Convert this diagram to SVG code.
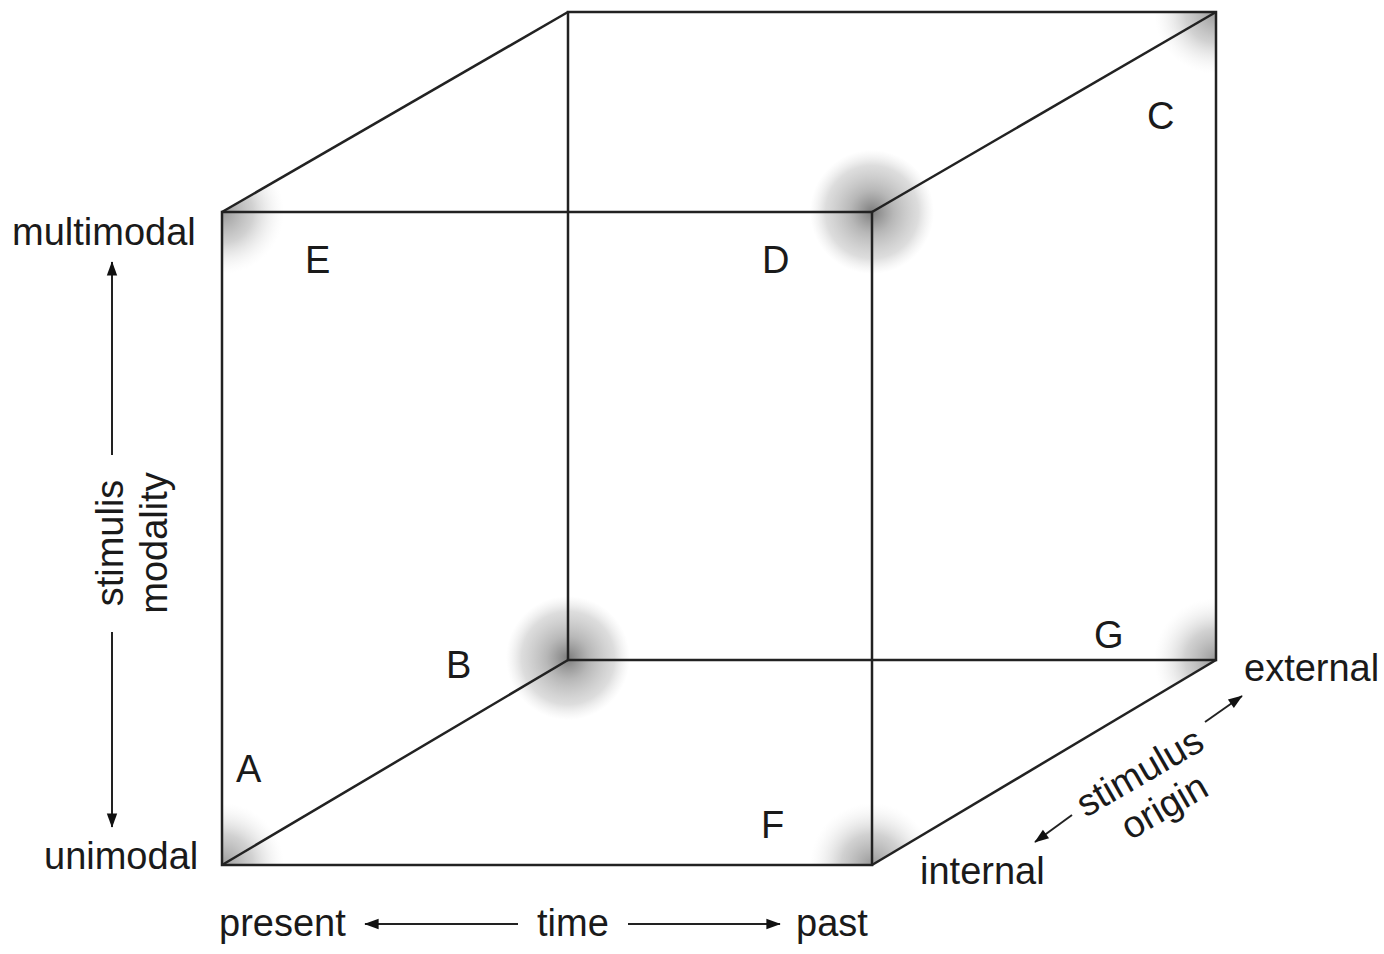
<svg xmlns="http://www.w3.org/2000/svg" width="1384" height="954" viewBox="0 0 1384 954">
<style>
text{font-family:"Liberation Sans",Arial,sans-serif;font-size:38px;fill:#1a1a1a}
.edge{stroke:#222;stroke-width:2.5;fill:none}
.ax{stroke:#222;stroke-width:2;fill:none}
</style>
<defs>
<radialGradient id="glow">
<stop offset="0" stop-color="#666" stop-opacity="0.85"/>
<stop offset="0.35" stop-color="#888" stop-opacity="0.6"/>
<stop offset="0.75" stop-color="#aaa" stop-opacity="0.4"/>
<stop offset="1" stop-color="#ccc" stop-opacity="0"/>
</radialGradient>
<radialGradient id="glowSm">
<stop offset="0" stop-color="#777" stop-opacity="0.75"/>
<stop offset="0.5" stop-color="#999" stop-opacity="0.45"/>
<stop offset="1" stop-color="#ddd" stop-opacity="0"/>
</radialGradient>
<clipPath id="cubeClip">
<polygon points="222,212 568,12 1216,12 1216,660 872,865 222,865"/>
</clipPath>
<marker id="ah" viewBox="0 0 10 10" refX="9" refY="5" markerWidth="8" markerHeight="8" markerUnits="userSpaceOnUse" orient="auto" overflow="visible">
<path d="M-8,-1.5 L10,5 L-8,11.5 Z" fill="#111"/>
</marker>
</defs>
<g id="glows">
<g clip-path="url(#cubeClip)">
<circle cx="222" cy="212" r="62" fill="url(#glowSm)"/>
<circle cx="222" cy="865" r="62" fill="url(#glowSm)"/>
<circle cx="872" cy="865" r="62" fill="url(#glowSm)"/>
<circle cx="1216" cy="12" r="62" fill="url(#glowSm)"/>
<circle cx="1216" cy="660" r="62" fill="url(#glowSm)"/>
</g>
<circle cx="872" cy="212" r="62" fill="url(#glow)"/>
<circle cx="568" cy="658" r="62" fill="url(#glow)"/>
</g>
<g id="connectors">
<rect class="edge" x="568" y="12" width="648" height="648"/>
<rect class="edge" x="222" y="212" width="650" height="653"/>
<line class="edge" x1="222" y1="212" x2="568" y2="12"/>
<line class="edge" x1="872" y1="212" x2="1216" y2="12"/>
<line class="edge" x1="222" y1="865" x2="568" y2="660"/>
<line class="edge" x1="872" y1="865" x2="1216" y2="660"/>
<line class="ax" x1="112" y1="455" x2="112" y2="262" marker-end="url(#ah)"/>
<line class="ax" x1="112" y1="632" x2="112" y2="827" marker-end="url(#ah)"/>
<line class="ax" x1="518" y1="924" x2="365" y2="924" marker-end="url(#ah)"/>
<line class="ax" x1="628" y1="924" x2="780" y2="924" marker-end="url(#ah)"/>
<line class="ax" x1="1205" y1="722" x2="1242" y2="696" marker-end="url(#ah)"/>
<line class="ax" x1="1072" y1="815" x2="1035" y2="842" marker-end="url(#ah)"/>
</g>
<g id="corner-labels">
<text id="E" x="305" y="273">E</text>
<text id="D" x="762" y="273">D</text>
<text id="C" x="1147" y="129">C</text>
<text id="B" x="446" y="678">B</text>
<text id="A" x="236" y="782">A</text>
<text id="F" x="761" y="838">F</text>
<text id="G" x="1094" y="648">G</text>
</g>
<g id="axis-labels">
<text x="12" y="245">multimodal</text>
<text x="44" y="869">unimodal</text>
<text x="219" y="936">present</text>
<text x="537" y="936">time</text>
<text x="796" y="936">past</text>
<text x="920" y="884">internal</text>
<text x="1244" y="681">external</text>
<text text-anchor="middle" transform="translate(123,543) rotate(-90)">stimulis</text>
<text text-anchor="middle" transform="translate(167,543) rotate(-90)">modality</text>
<g transform="translate(1150,790) rotate(-30)">
<text text-anchor="middle" x="0" y="-8">stimulus</text>
<text text-anchor="middle" x="4" y="34">origin</text>
</g>
</g>
</svg>
